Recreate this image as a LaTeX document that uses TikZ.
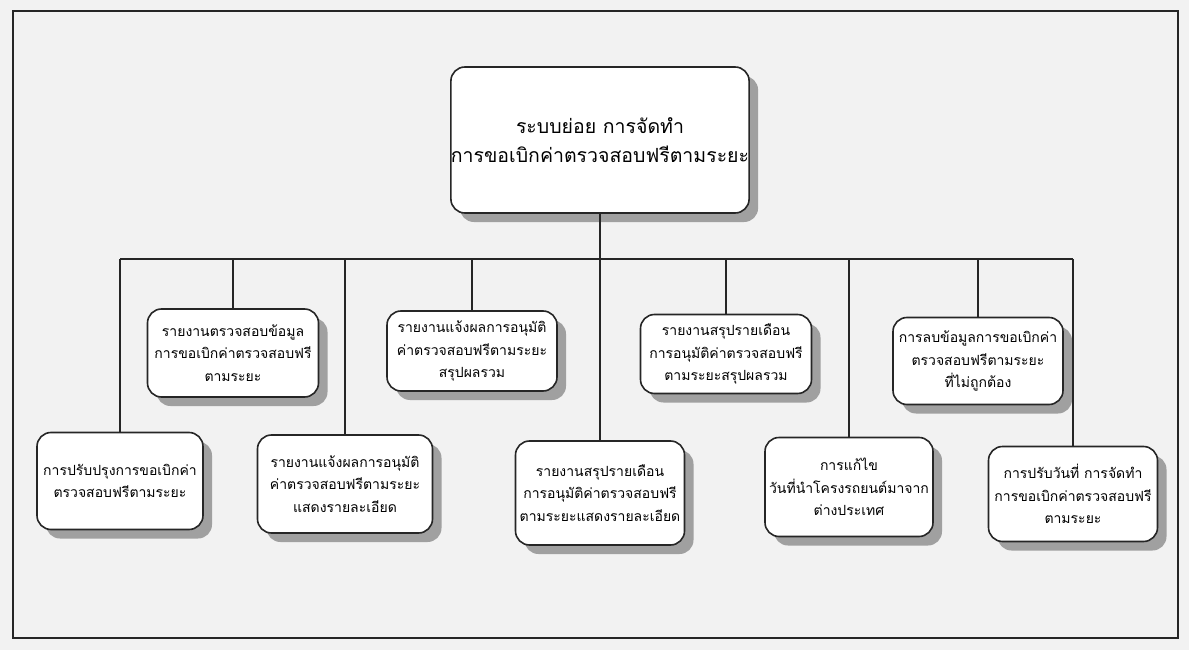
\documentclass[tikz,border=0pt]{standalone}
\usepackage{fontspec}
\newfontfamily\thai[Script=Thai]{Loma}
\usetikzlibrary{shadows}
\begin{document}
\begin{tikzpicture}[x=1pt,y=-1pt,
  box/.style={draw=black!85,line width=1.6pt,rounded corners=14pt,fill=white,align=center,
    inner sep=0pt,
    drop shadow={shadow xshift=9pt,shadow yshift=-9pt,fill=black!45,opacity=0.8},
    font=\thai\fontsize{14}{22.5}\selectfont},
  topbox/.style={box,font=\thai\fontsize{19.5}{29}\selectfont},
  conn/.style={draw=black!85,line width=1.3pt}]
\fill[black!5] (0,0) rectangle (1189,650);
\useasboundingbox (0,0) rectangle (1189,650);
\draw[black!85,line width=1.4pt] (13,11) rectangle (1178,638);
\node[topbox,minimum width=285pt,minimum height=146pt] (T) at (600,140)
  {ระบบย่อย การจัดทำ\\การขอเบิกค่าตรวจสอบฟรีตามระยะ};
% upper row
\node[box,minimum width=171pt,minimum height=88pt] (B2) at (233,353)
  {รายงานตรวจสอบข้อมูล\\การขอเบิกค่าตรวจสอบฟรี\\ตามระยะ};
\node[box,minimum width=170pt,minimum height=80pt] (B3) at (472,351)
  {รายงานแจ้งผลการอนุมัติ\\ค่าตรวจสอบฟรีตามระยะ\\สรุปผลรวม};
\node[box,minimum width=171pt,minimum height=79pt] (B4) at (726,354)
  {รายงานสรุปรายเดือน\\การอนุมัติค่าตรวจสอบฟรี\\ตามระยะสรุปผลรวม};
\node[box,minimum width=170pt,minimum height=87pt] (B5) at (978,361)
  {การลบข้อมูลการขอเบิกค่า\\ตรวจสอบฟรีตามระยะ\\ที่ไม่ถูกต้อง};
% lower row
\node[box,minimum width=166pt,minimum height=97pt] (B1) at (120,481)
  {การปรับปรุงการขอเบิกค่า\\ตรวจสอบฟรีตามระยะ};
\node[box,minimum width=175pt,minimum height=98pt] (B7) at (345,484)
  {รายงานแจ้งผลการอนุมัติ\\ค่าตรวจสอบฟรีตามระยะ\\แสดงรายละเอียด};
\node[box,minimum width=169pt,minimum height=104pt] (B8) at (600,493)
  {รายงานสรุปรายเดือน\\การอนุมัติค่าตรวจสอบฟรี\\ตามระยะแสดงรายละเอียด};
\node[box,minimum width=168pt,minimum height=99pt] (B9) at (849,487)
  {การแก้ไข\\วันที่นำโครงรถยนต์มาจาก\\ต่างประเทศ};
\node[box,minimum width=169pt,minimum height=95pt] (B10) at (1073,494)
  {การปรับวันที่ การจัดทำ\\การขอเบิกค่าตรวจสอบฟรี\\ตามระยะ};
% connectors
\coordinate (busL) at (120,259);
\coordinate (busR) at (1073,259);
\draw[conn] (busL) -- (busR);
\draw[conn] (T.south) -- (B8.north);
\foreach \n in {B1,B2,B3,B4,B5,B7,B9,B10}
  \draw[conn] (\n.north) -- (\n.north |- busL);
\end{tikzpicture}
\end{document}
